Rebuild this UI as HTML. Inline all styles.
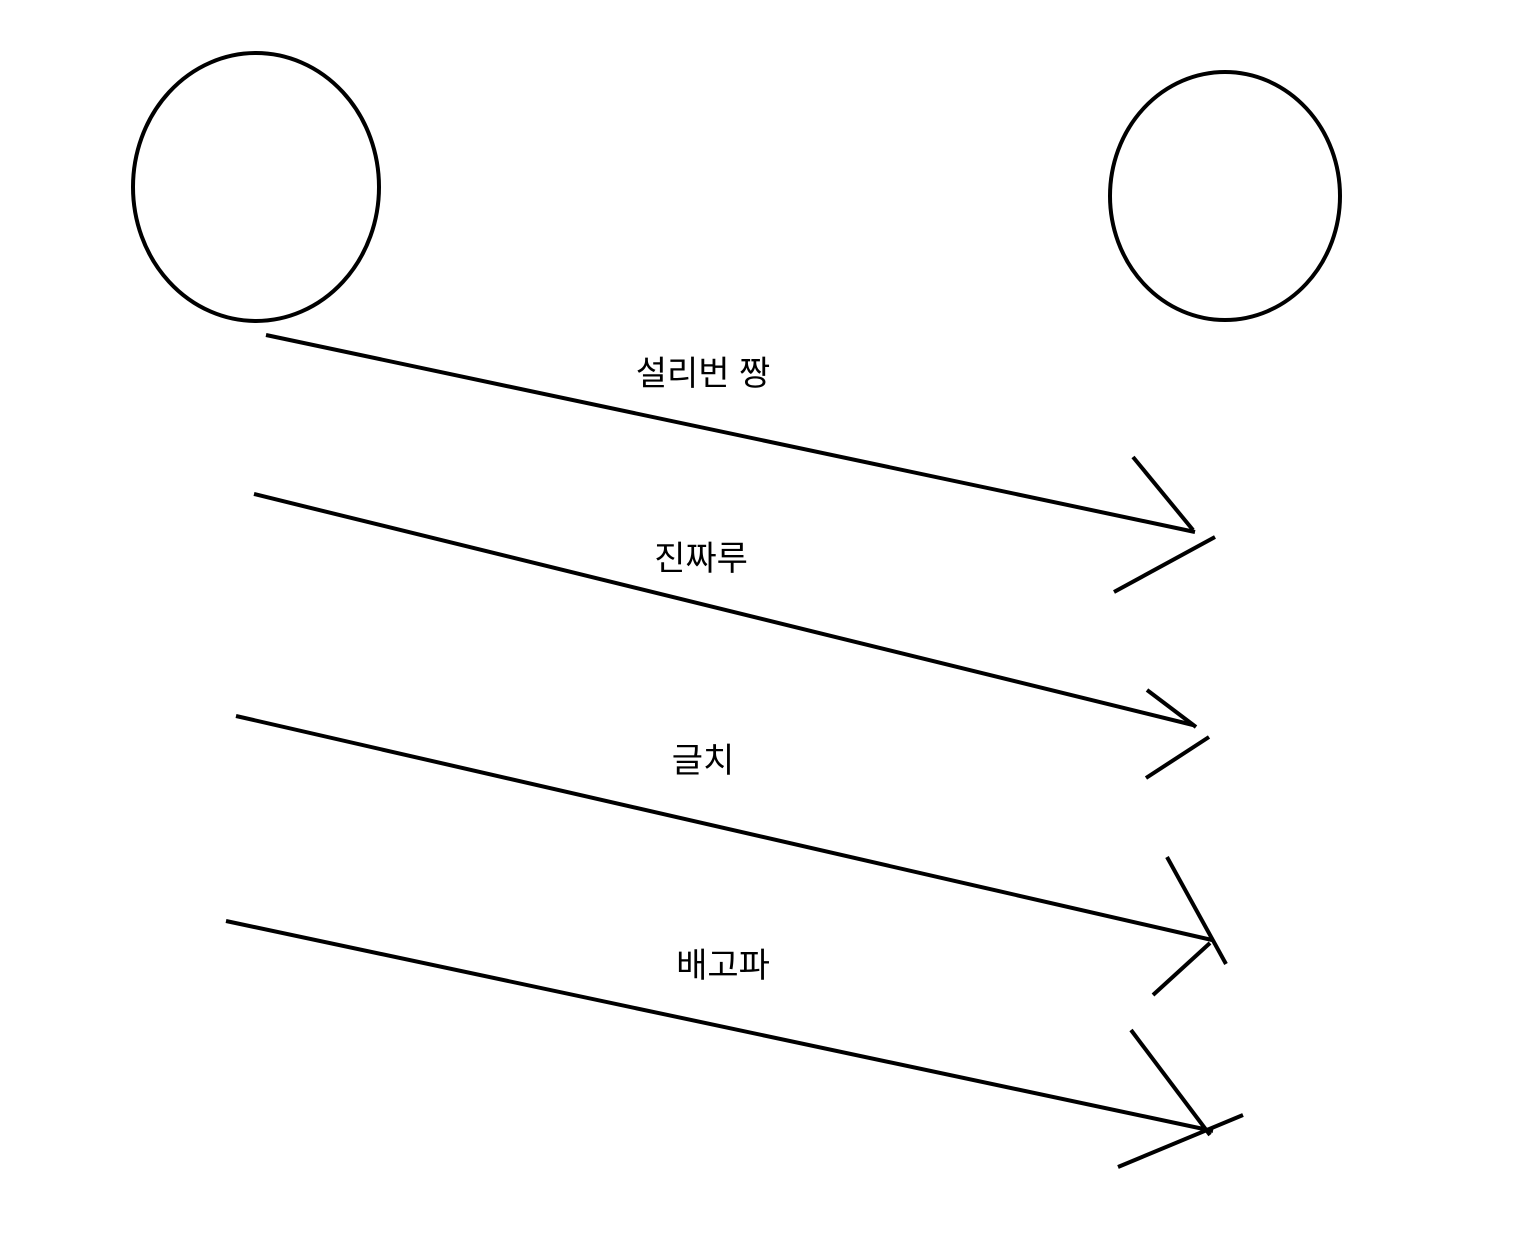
<!DOCTYPE html>
<html>
<head>
<meta charset="utf-8">
<style>
  html,body{margin:0;padding:0;background:#fff;}
  svg{display:block;}
  text{font-family:"Liberation Sans","Noto Sans CJK KR","NanumGothic",sans-serif;font-size:34px;fill:#000;}
</style>
</head>
<body>
<svg id="d" width="1514" height="1238" viewBox="0 0 1514 1238">
  <ellipse cx="256" cy="187" rx="123" ry="134" fill="none" stroke="#000" stroke-width="4"/>
  <ellipse cx="1225" cy="196" rx="115" ry="124" fill="none" stroke="#000" stroke-width="4"/>
</svg>
<script>
const labels = ["설리번 짱", "진짜루", "글치", "배고파"];
const shafts = [[266,335,1195,532],[254,494,1193,725],[236,716,1212,940],[226,921,1213,1131]];
const headA = [[1133,457,1193,530],[1147,690,1196,727],[1167,857,1226,964],[1131,1030,1210,1135]];
const headB = [[1114,592,1215,537],[1146,778,1209,737],[1153,995,1210,943],[1118,1167,1243,1115]];
const labelPos = [[703,385],[701,570],[703,772],[723,977]];

const svg = document.getElementById('d');
const NS = 'http://www.w3.org/2000/svg';
function line(c, name){
  const l = document.createElementNS(NS,'line');
  l.setAttribute('x1',c[0]); l.setAttribute('y1',c[1]);
  l.setAttribute('x2',c[2]); l.setAttribute('y2',c[3]);
  l.setAttribute('stroke','#000'); l.setAttribute('stroke-width','4');
  
  
  svg.appendChild(l);
}
labels.forEach((t,i)=>{
  line(shafts[i], 'arrow-line-'+(i+1));
  line(headA[i], 'arrow-head-upper-'+(i+1));
  line(headB[i], 'arrow-head-lower-'+(i+1));
  const tx = document.createElementNS(NS,'text');
  tx.setAttribute('x', labelPos[i][0]);
  tx.setAttribute('y', labelPos[i][1]);
  tx.setAttribute('text-anchor','middle');
  tx.textContent = t;
  
  
  svg.appendChild(tx);
});
</script>
</body>
</html>
